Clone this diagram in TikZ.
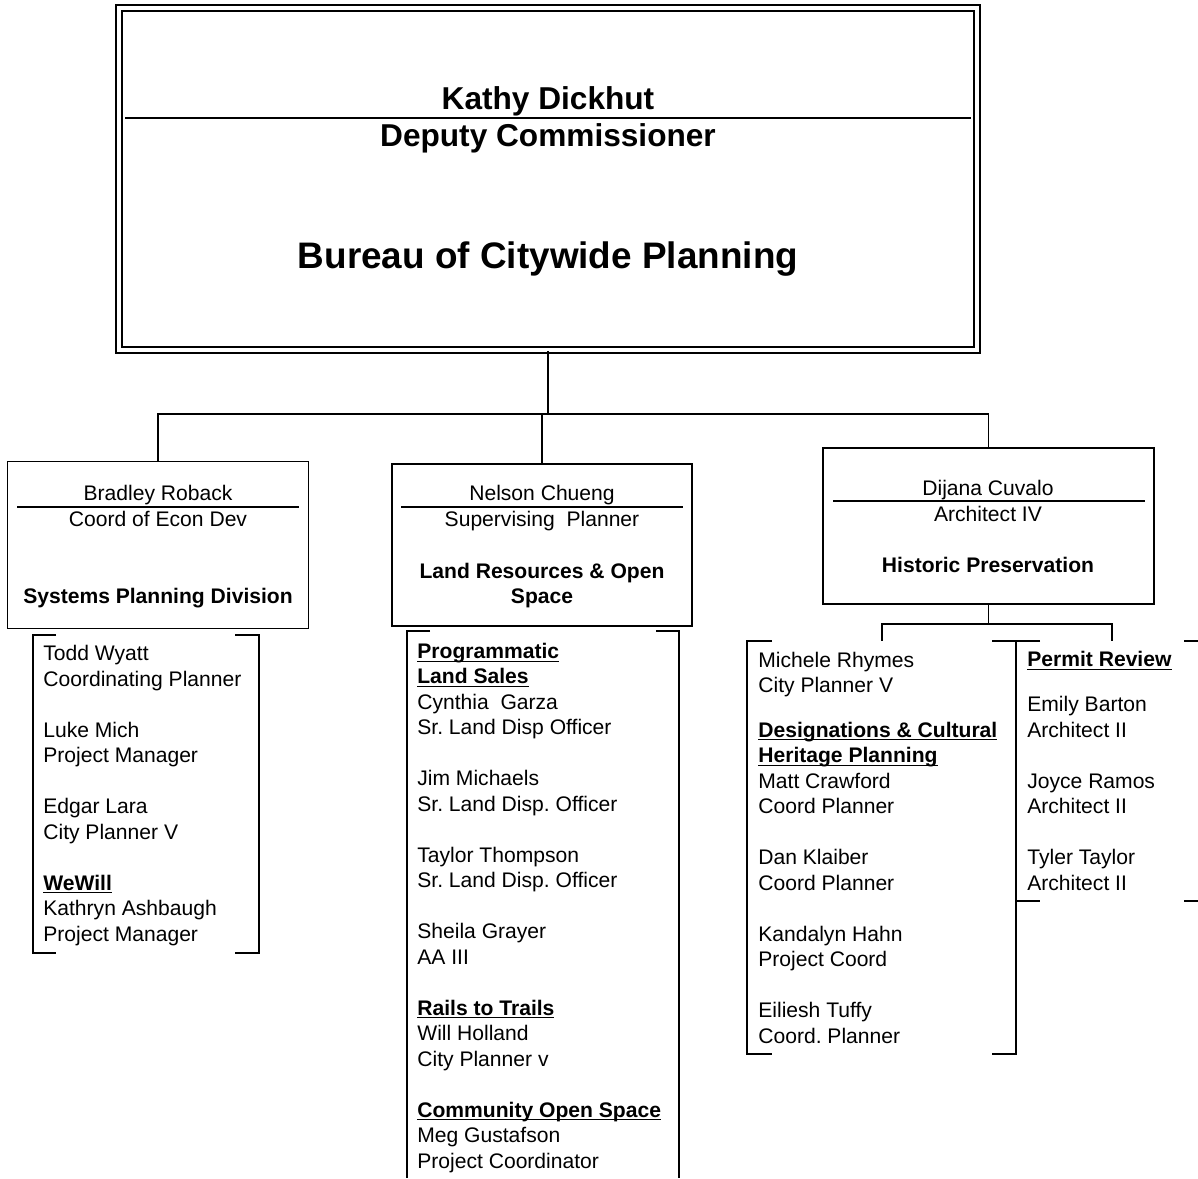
\documentclass[tikz,border=0pt]{standalone}
\usepackage{fontspec}
\setmainfont{Liberation Sans}
\frenchspacing

\tikzset{
  unit/.style={draw, line width=1.1pt, inner sep=0pt},
  title/.style={inner sep=0pt, anchor=base, font=\fontsize{12}{14.5}\selectfont},
  staff/.style={inner sep=0pt, anchor=base west, align=left, font=\fontsize{12}{14.5}\selectfont},
  link/.style={line width=1.1pt},
  rule/.style={line width=0.8pt},
  bracket/.style={line width=1.1pt}
}
\newcommand{\hd}[1]{\underline{\smash{\textbf{#1}}}}

\begin{document}
\begin{tikzpicture}[x=0.02cm, y=-0.02cm]
\useasboundingbox (0,0) rectangle (1198,1178);

\node[unit, double, double distance=2.2pt, minimum width=17.16cm, minimum height=6.84cm] (bureau) at (548,179) {};
\node[title, font=\fontsize{18}{21}\selectfont\bfseries] (kathy) at (548,109) {Kathy Dickhut};
\draw[rule] (125,118) -- (971,118);
\node[title, font=\fontsize{18}{21}\selectfont\bfseries] (deputy) at (548,146) {Deputy Commissioner};
\node[title, font=\fontsize{21}{24}\selectfont\bfseries] (bcp) at (548,268) {Bureau of Citywide Planning};

\node[unit, minimum width=6.02cm, minimum height=3.34cm] (sys) at (158,545) {};
\node[title] (roback) at (158,500) {Bradley Roback};
\draw[rule] (17,507) -- (299,507);
\node[title] (econ) at (158,526) {Coord of Econ Dev};
\node[title, font=\fontsize{12}{14.5}\selectfont\bfseries] (spd) at (158,603) {Systems Planning Division};

\node[unit, minimum width=6cm, minimum height=3.24cm] (land) at (542,545) {};
\node[title] (chueng) at (542,500) {Nelson Chueng};
\draw[rule] (401,507) -- (683,507);
\node[title] (super) at (542,526) {Supervising\ \ Planner};
\node[title, font=\fontsize{12}{14.5}\selectfont\bfseries] (lros) at (542,578) {Land Resources \& Open};
\node[title, font=\fontsize{12}{14.5}\selectfont\bfseries] (space) at (542,603) {Space};

\node[unit, minimum width=6.62cm, minimum height=3.12cm] (hist) at (988.5,526) {};
\node[title] (cuvalo) at (988,495) {Dijana Cuvalo};
\draw[rule] (833,501) -- (1145,501);
\node[title] (arch) at (988,521) {Architect IV};
\node[title, font=\fontsize{12}{14.5}\selectfont\bfseries] (hp) at (988,572) {Historic Preservation};

\draw[link] (bureau.south) -- ++(0,63) coordinate (bus);
\draw[link] (bus) -| (sys.north);
\draw[link] (bus) -| (land.north);
\draw[link] (bus) -| (hist.north);

\coordinate (rhymes) at (882,641);
\coordinate (permit) at (1112,641);
\draw[link] (hist.south) -- ++(0,19) coordinate (fork);
\draw[link] (fork) -| (rhymes);
\draw[link] (fork) -| (permit);

\draw[bracket] (56,635) -| (33,953) -- (56,953);
\draw[bracket] (235,635) -| (259,953) -- (235,953);
\draw[bracket] (430,631) -| (407,1178);
\draw[bracket] (656,631) -| (679,1178);
\draw[bracket] (772,641) -| (747,1054) -- (772,1054);
\draw[bracket] (992,641) -| (1016,1054) -- (992,1054);
\draw[bracket] (1040,641) -- (1016,641);
\draw[bracket] (1016,901) -- (1040,901);
\draw[bracket] (1184,641) -- (1198,641);
\draw[bracket] (1184,901) -- (1198,901);

\node[staff] (econstaff) at (43,941) {Todd Wyatt\\ Coordinating Planner\\[14.5pt]
  Luke Mich\\ Project Manager\\[14.5pt]
  Edgar Lara\\ City Planner V\\[14.5pt]
  \hd{WeWill}\\ Kathryn Ashbaugh\\ Project Manager};

\node[staff] (landstaff) at (417,1168) {\hd{Programmatic}\\ \hd{Land Sales}\\
  Cynthia\ \ Garza\\ Sr. Land Disp Officer\\[14.5pt]
  Jim Michaels\\ Sr. Land Disp. Officer\\[14.5pt]
  Taylor Thompson\\ Sr. Land Disp. Officer\\[14.5pt]
  Sheila Grayer\\ AA III\\[14.5pt]
  \hd{Rails to Trails}\\ Will Holland\\ City Planner v\\[14.5pt]
  \hd{Community Open Space}\\ Meg Gustafson\\ Project Coordinator};

\node[staff] (histstaff) at (758,1043) {Michele Rhymes\\ City Planner V\\[11pt]
  \hd{Designations \& Cultural}\\ \hd{Heritage Planning}\\
  Matt Crawford\\ Coord Planner\\[14.5pt]
  Dan Klaiber\\ Coord Planner\\[14.5pt]
  Kandalyn Hahn\\ Project Coord\\[14.5pt]
  Eiliesh Tuffy\\ Coord. Planner};

\node[staff] (permitstaff) at (1027,890) {\hd{Permit Review}\\[11pt]
  Emily Barton\\ Architect II\\[14.5pt]
  Joyce Ramos\\ Architect II\\[14.5pt]
  Tyler Taylor\\ Architect II};
\end{tikzpicture}
\end{document}
